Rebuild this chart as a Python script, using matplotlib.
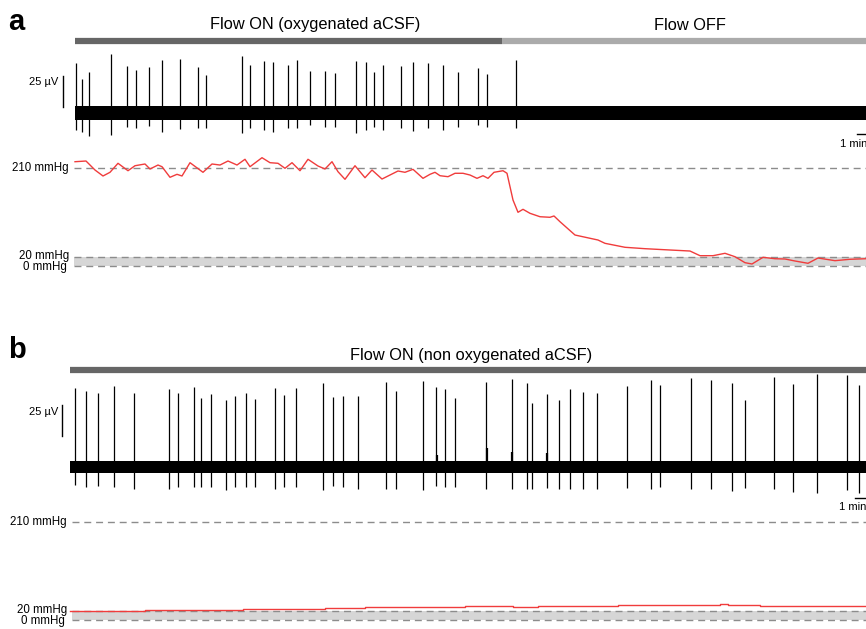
import numpy as np
import matplotlib
matplotlib.use("Agg")
import matplotlib.pyplot as plt

plt.rcParams['font.family'] = ['Liberation Sans', 'DejaVu Sans']

# ---- panel a : spikes (time in min, amplitude in uV) ----
spk_a_t = [0.04, 0.27, 0.55, 1.44, 2.08, 2.44, 2.96, 3.49, 4.20, 4.91, 5.23,
           6.67, 7.01, 7.55, 7.93, 8.51, 8.87, 9.40, 9.99, 10.41, 11.23, 11.63,
           11.95, 12.33, 13.03, 13.53, 14.11, 14.71, 15.33, 16.11, 16.47, 17.64]
spk_a_top = [41.0, 27.9, 33.9, 48.6, 38.8, 35.5, 38.2, 43.4, 44.3, 37.7, 31.4,
             47.2, 39.3, 42.9, 42.3, 39.3, 43.7, 34.7, 34.9, 32.8, 43.1, 42.3,
             34.1, 39.6, 39.0, 42.3, 41.0, 39.6, 33.6, 37.1, 32.2, 43.7]
spk_a_bot = [-13.7, -15.0, -18.6, -17.8, -11.5, -12.3, -10.4, -15.6, -13.1, -12.3, -12.3,
             -16.4, -12.3, -13.7, -15.0, -12.3, -12.3, -9.6, -11.0, -11.0, -16.4, -13.7,
             -11.5, -13.7, -12.3, -14.2, -12.3, -13.7, -11.0, -9.6, -11.5, -12.3]
noise_a = 5.7
flow_off_a = 17.08

# ---- panel a : pO2 (mmHg) ----
po2_a_t = [0, 0.44, 0.8, 1.12, 1.4, 1.72, 2.12, 2.4, 2.8, 3.0, 3.32, 3.48, 3.8, 4.08,
           4.28, 4.6, 5.12, 5.48, 5.8, 6.12, 6.48, 6.8, 7.0, 7.48, 7.8, 8.12, 8.4,
           8.68, 9.0, 9.32, 9.72, 10.0, 10.28, 10.52, 10.8, 11.2, 11.6, 11.88, 12.28,
           12.6, 12.92, 13.2, 13.52, 13.92, 14.2, 14.4, 14.6, 14.92, 15.2, 15.52, 15.8,
           16.08, 16.32, 16.52, 16.76, 17.12, 17.28, 17.52, 17.72, 17.92, 18.2, 18.6,
           19.0, 19.16, 19.4, 20.0, 20.6, 20.92, 21.2, 22.0, 22.8, 23.8, 24.6, 25.0,
           25.52, 26.0, 26.4, 26.8, 27.08, 27.52, 28.0, 28.4, 28.8, 29.32, 29.72,
           30.4, 31.0, 31.64]
po2_a = [223.5, 225, 205.7, 192.9, 200.8, 220.1, 204.2, 214.9, 218.6, 207.9, 216.4,
         212.8, 190.1, 196.5, 192.9, 221.4, 200.8, 218.6, 216.4, 225, 216.4, 228.7,
         212.8, 232.1, 221.4, 220.1, 209.4, 221.4, 204.2, 228.7, 214.3, 207.9, 223.5,
         202.1, 185.8, 214.9, 189.2, 205.7, 186.4, 195, 203.6, 200.8, 207.2, 187.9,
         196.5, 200.8, 193.5, 191.4, 198.7, 198.7, 195, 187.9, 193.5, 187.9, 200.8,
         204.2, 198.7, 141.4, 115.1, 121.5, 112.9, 105.6, 104.4, 107.2, 94.9, 66.4,
         59.4, 55.7, 48.6, 40.1, 37.1, 34.3, 32.1, 22.1, 22.1, 27.2, 19.9, 7.1, 4.3,
         18.6, 15.6, 15.0, 10.7, 5.8, 17.1, 11.4, 14.4, 15.6]

# ---- panel b : spikes ----
spk_b_t = [0.21, 0.64, 1.11, 1.76, 2.55, 3.96, 4.31, 4.97, 5.24, 5.64, 6.24, 6.60,
           7.03, 7.39, 8.19, 8.55, 9.03, 10.12, 10.52, 10.91, 11.51, 12.64, 13.03,
           14.11, 14.65, 15.01, 15.40, 16.64, 17.67, 18.27, 18.47, 19.07, 19.57,
           19.99, 20.52, 21.08, 22.29, 23.23, 23.60, 24.83, 25.63, 26.49, 27.01,
           28.16, 28.93, 29.89, 31.09, 31.57]
spk_b_top = [64.3, 62.0, 60.2, 66.4, 60.2, 63.4, 60.2, 65.6, 56.3, 59.3, 54.4, 58.0,
             60.2, 55.2, 64.3, 58.5, 64.3, 68.4, 57.4, 58.0, 58.0, 69.4, 62.0, 70.2,
             65.1, 63.7, 56.3, 69.4, 71.6, 68.4, 52.0, 59.3, 54.7, 63.4, 61.5, 60.7,
             66.4, 71.1, 67.0, 73.0, 70.8, 68.9, 54.7, 73.8, 67.8, 76.0, 75.2, 67.0]
spk_b_bot = [-15.0, -16.4, -15.8, -16.4, -18.5, -18.5, -16.4, -16.4, -16.4, -16.4,
             -19.1, -16.4, -16.4, -16.4, -18.5, -16.4, -16.4, -19.1, -15.6, -16.4,
             -18.5, -18.5, -18.5, -19.1, -15.8, -16.4, -16.4, -18.5, -18.5, -18.0,
             -18.5, -17.2, -18.5, -18.5, -18.5, -18.5, -17.2, -18.5, -16.4, -18.5,
             -18.5, -19.9, -17.2, -18.5, -20.5, -21.3, -19.1, -21.8]
# small units riding on the baseline
mini_b_t = [14.67, 16.67, 17.67, 19.09]
mini_b_top = [9.6, 15.3, 12.0, 11.2]
noise_b = 5.0

# ---- panel b : pO2 ----
po2_b_t = [0, 3.0, 6.9, 10.2, 11.8, 15.8, 17.7, 18.7, 21.9, 26.0, 26.3, 27.6, 31.84]
po2_b = [19.5, 21.4, 23.6, 25.7, 27.2, 29.4, 28.0, 30.0, 32.1, 33.6, 32.1, 29.4, 30.5]

W, H = 866, 629
fig = plt.figure(figsize=(W / 100, H / 100), dpi=100)

def px_axes(x0, y0, x1, y1):
    ax = fig.add_axes([x0 / W, 1 - y1 / H, (x1 - x0) / W, (y1 - y0) / H])
    ax.axis('off')
    return ax

red = '#f03c3c'
dash_col = '#8c8c8c'
fs = 8.3

def spikes(ax, t, top, bot, noise, t_end):
    ax.fill_between([0, t_end], -noise, noise, color='black', lw=0)
    ax.vlines(t, bot, top, color='black', lw=0.9)

def po2_panel(ax, t, v, t0, steps=False):
    xe = ax.get_xlim()[1]
    ax.fill_between([t0, xe], 0, 20, color='#d6d6d6', lw=0)
    for lev in (210, 20, 0):
        ax.plot([t0, xe], [lev, lev], color=dash_col, lw=1, dashes=(5, 3.5))
    ax.text(t0 - 0.2, 210, '210 mmHg', ha='right', va='center', fontsize=fs)
    ax.text(t0 - 0.2, 20.5, '20 mmHg', ha='right', va='center', fontsize=fs)
    ax.text(t0 - 0.3, -1.5, '0 mmHg', ha='right', va='center', fontsize=fs)
    ax.plot(t, v, color=red, lw=1.0, drawstyle='steps-post' if steps else 'default')

# ================= panel a =================
axa = px_axes(0, 15, W, 150)
axa.set_xlim(-3, 31.64)
axa.set_ylim((113.3 - 150) / 1.22, (113.3 - 15) / 1.22)
spikes(axa, spk_a_t, spk_a_top, spk_a_bot, noise_a, 31.64)
bar_y = (150 - 41) / 135
trans = axa.get_xaxis_transform()
axa.plot([0, flow_off_a], [bar_y, bar_y], transform=trans, color='#666666', lw=4.5,
         solid_capstyle='butt')
axa.plot([flow_off_a, 31.64], [bar_y, bar_y], transform=trans, color='#ababab', lw=4.5,
         solid_capstyle='butt')
axa.text(9.6, (150 - 25) / 135, 'Flow ON (oxygenated aCSF)', transform=trans,
         ha='center', va='center', fontsize=11.8)
axa.text(24.6, (150 - 25) / 135, 'Flow OFF', transform=trans,
         ha='center', va='center', fontsize=11.8)
fig.text(8 / W, 1 - 29.5 / H, 'a', ha='left', va='baseline',
         fontsize=21, fontweight='bold')
axa.plot([-0.48, -0.48], [5.2, 30.2], color='black', lw=1)
axa.text(-0.68, 25.9, '25 µV', ha='right', va='center', fontsize=8)
axa.plot([31.28, 32.28], [(113.3 - 134) / 1.22] * 2, color='black', lw=1, clip_on=False)
axa.text(30.6, (113.3 - 144) / 1.22, '1 min', ha='left', va='center', fontsize=8)

axa2 = px_axes(0, 150, W, 280)
axa2.set_xlim(-3, 31.64)
axa2.set_ylim(-30, 248.6)
po2_panel(axa2, po2_a_t, po2_a, -0.04)

# ================= panel b =================
axb = px_axes(0, 330, W, 505)
axb.set_xlim(-2.8, 31.84)
axb.set_ylim((466.7 - 505) / 1.22, (466.7 - 330) / 1.22)
spikes(axb, spk_b_t, spk_b_top, spk_b_bot, noise_b, 31.84)
axb.vlines(mini_b_t, 0, mini_b_top, color='black', lw=1.6)
transb = axb.get_xaxis_transform()
bar_yb = (505 - 369.5) / 175
axb.plot([0, 31.84], [bar_yb, bar_yb], transform=transb, color='#666666', lw=4.5,
         solid_capstyle='butt')
axb.text(16.04, (505 - 355) / 175, 'Flow ON (non oxygenated aCSF)', transform=transb,
         ha='center', va='center', fontsize=11.8)
fig.text(8 / W, 1 - 358 / H, 'b', ha='left', va='baseline',
         fontsize=21, fontweight='bold')
axb.plot([-0.32, -0.32], [25.2, 50.2], color='black', lw=1)
axb.text(-0.48, 45, '25 µV', ha='right', va='center', fontsize=8)
axb.plot([31.4, 32.4], [(466.7 - 498) / 1.22] * 2, color='black', lw=1, clip_on=False)
axb.text(30.76, (466.7 - 507) / 1.22, '1 min', ha='left', va='center', fontsize=8)

axb2 = px_axes(0, 505, W, 629)
axb2.set_xlim(-2.8, 31.84)
axb2.set_ylim(-19.3, 246.4)
po2_panel(axb2, po2_b_t, po2_b, 0.08, steps=True)

fig.savefig('out.png', dpi=100)
